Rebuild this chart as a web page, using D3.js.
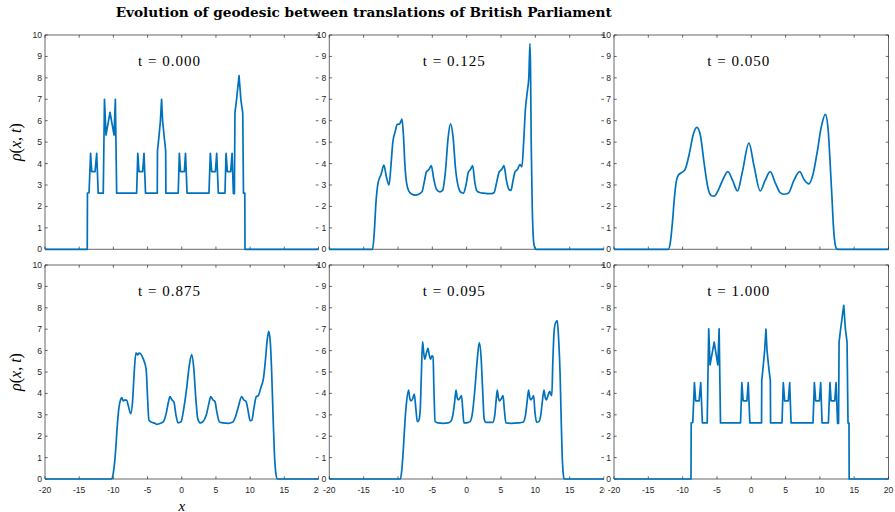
<!DOCTYPE html>
<html>
<head>
<meta charset="utf-8">
<script src="https://cdn.jsdelivr.net/npm/d3@7"></script>
<style>
  html, body { margin: 0; padding: 0; background: #fff; }
  svg { display: block; }
</style>
</head>
<body>
<svg id="chart" width="895" height="512"></svg>
<script>
// ---- data: density rho(x,t) along the geodesic, as [x, rho] samples ----
const titleText = "Evolution of geodesic between translations of British Parliament";
const panelLabels = ["t = 0.000", "t = 0.125", "t = 0.050", "t = 0.875", "t = 0.095", "t = 1.000"];
const xTicks = [-20, -15, -10, -5, 0, 5, 10, 15, 20];
const yTicks = [0, 1, 2, 3, 4, 5, 6, 7, 8, 9, 10];

const rhoT000 = [[-20,0],[-13.82,0],[-13.79,2.62],[-13.56,2.64],[-13.33,4.48],[-13.17,3.62],[-12.68,3.62],[-12.44,4.48],[-12.22,2.62],
  [-11.48,2.62],[-11.30,7.0],[-11.08,5.33],[-10.49,6.39],[-9.90,5.33],[-9.71,7.0],[-9.52,2.62],
  [-6.60,2.62],[-6.43,4.48],[-6.25,3.62],[-5.72,3.62],[-5.52,4.48],[-5.30,2.62],
  [-3.58,2.62],[-3.55,4.6],[-3.35,5.2],[-3.12,6.0],[-2.95,7.0],[-2.80,6.0],[-2.55,5.2],[-2.35,4.6],[-2.32,2.62],
  [-0.52,2.62],[-0.35,4.48],[-0.18,3.62],[0.38,3.62],[0.55,4.48],[0.78,2.62],
  [3.98,2.62],[4.18,4.48],[4.38,3.62],[4.92,3.62],[5.11,4.48],[5.35,2.62],
  [6.32,2.62],[6.48,4.48],[6.67,3.62],[7.16,3.62],[7.36,4.48],[7.55,2.6],[7.70,2.6],[7.78,6.35],[8.0,6.95],[8.38,8.1],[8.65,6.97],[8.92,6.35],[9.03,2.62],[9.22,2.62],[9.25,0],[20,0]];

const rhoT125 = [[-20,0],[-13.7,0],[-13.45,0.8],[-13.2,2.2],[-12.9,3.1],[-12.45,3.5],[-12.05,3.93],[-11.7,3.4],[-11.3,3.0],[-11.0,4.0],
  [-10.75,5.0],[-10.4,5.5],[-10.1,5.83],[-9.75,5.85],[-9.6,5.95],[-9.42,6.07],[-9.2,5.3],[-9.0,4.0],[-8.75,3.1],[-8.4,2.7],[-8.0,2.58],
  [-7.5,2.53],[-7.0,2.57],[-6.5,2.68],[-6.2,3.1],[-5.85,3.62],[-5.5,3.72],[-5.15,3.9],[-4.8,3.3],[-4.4,2.8],[-3.9,2.68],[-3.5,2.75],
  [-3.1,3.6],[-2.7,5.2],[-2.35,5.85],[-2.0,5.3],[-1.6,3.7],[-1.2,2.9],[-0.8,2.65],[-0.45,2.62],[-0.1,3.0],[0.25,3.6],[0.55,3.72],
  [0.87,3.9],[1.2,3.1],[1.5,2.72],[1.9,2.65],[2.4,2.62],[3.0,2.6],[3.6,2.6],[4.0,2.65],[4.35,3.1],[4.75,3.62],[5.1,3.72],[5.43,3.9],
  [5.8,3.2],[6.15,2.8],[6.45,2.75],[6.75,3.2],[7.05,3.62],[7.4,3.72],[7.76,3.95],[8.05,3.85],[8.3,5.0],[8.55,6.5],[8.85,7.4],[9.05,8.0],
  [9.22,9.6],[9.3,8.5],[9.4,5.0],[9.55,2.0],[9.7,0.6],[9.85,0.15],[10.1,0],[20,0]];

const rhoT050 = [[-20,0],[-12.1,0],[-11.8,0.3],[-11.5,1.2],[-11.2,2.4],[-10.9,3.2],[-10.6,3.47],[-10.1,3.59],[-9.65,3.72],[-9.0,4.5],
  [-8.5,5.3],[-7.93,5.69],[-7.4,5.3],[-6.86,4.0],[-6.3,2.85],[-5.8,2.5],[-5.4,2.48],[-4.9,2.7],[-4.2,3.2],[-3.41,3.62],[-2.7,3.2],
  [-2.0,2.72],[-1.3,3.6],[-0.34,4.95],[0.4,3.9],[1.31,2.72],[2.0,3.2],[2.77,3.62],[3.5,3.1],[4.2,2.65],[4.72,2.57],[5.4,2.62],
  [6.2,3.2],[7.06,3.62],[7.7,3.25],[8.37,3.05],[9.0,3.5],[9.59,4.5],[10.2,5.7],[10.8,6.3],[11.2,5.6],[11.5,4.0],[11.75,2.5],
  [11.95,1.2],[12.15,0.4],[12.4,0.05],[12.6,0],[20,0]];

const rhoT875 = [[-20,0],[-10.25,0],[-10.0,0.3],[-9.7,1.2],[-9.45,2.4],[-9.2,3.3],[-8.95,3.7],[-8.77,3.8],[-8.55,3.65],[-8.3,3.7],
  [-8.05,3.68],[-7.8,3.4],[-7.46,3.05],[-7.2,3.6],[-6.95,5.0],[-6.7,5.9],[-6.45,5.8],[-6.25,5.88],[-6.0,5.85],[-5.75,5.7],[-5.5,5.5],
  [-5.2,5.1],[-5.0,3.8],[-4.8,2.75],[-4.4,2.65],[-3.9,2.6],[-3.65,2.55],[-3.1,2.6],[-2.65,2.7],[-2.25,3.1],[-1.95,3.6],[-1.72,3.85],
  [-1.45,3.7],[-1.15,3.6],[-0.85,3.0],[-0.55,2.62],[-0.1,2.68],[0.25,3.2],[0.7,4.2],[1.1,5.3],[1.45,5.81],[1.75,5.2],[2.05,3.8],
  [2.35,2.8],[2.7,2.62],[3.1,2.68],[3.6,3.0],[3.95,3.5],[4.25,3.85],[4.55,3.7],[4.85,3.62],[5.15,3.1],[5.5,2.67],[6.0,2.62],
  [6.8,2.6],[7.4,2.65],[7.85,2.9],[8.3,3.4],[8.75,3.85],[9.05,3.7],[9.4,3.62],[9.7,3.2],[10.0,2.72],[10.25,2.75],[10.55,3.3],
  [10.9,3.85],[11.2,3.9],[11.6,4.3],[11.95,4.7],[12.25,5.6],[12.5,6.5],[12.72,6.9],[12.95,6.4],[13.15,5.0],[13.35,3.0],[13.55,1.2],
  [13.75,0.3],[14.0,0],[20,0]];

const rhoT095 = [[-20,0],[-9.65,0],[-9.45,0.4],[-9.2,1.5],[-9.0,2.6],[-8.75,3.6],[-8.45,4.16],[-8.3,3.8],[-8.1,3.65],[-7.85,3.75],
  [-7.62,3.97],[-7.4,3.3],[-7.18,2.68],[-6.95,2.75],[-6.75,3.3],[-6.6,4.8],[-6.42,6.42],[-6.25,5.9],[-6.1,5.6],[-5.85,5.9],[-5.63,6.1],
  [-5.45,5.8],[-5.25,5.6],[-5.05,5.75],[-4.9,5.72],[-4.75,4.0],[-4.6,2.7],[-4.2,2.62],[-3.4,2.6],[-2.7,2.62],[-2.3,2.7],[-2.0,3.0],
  [-1.75,3.6],[-1.55,4.16],[-1.38,3.8],[-1.2,3.7],[-0.95,3.8],[-0.75,3.9],[-0.58,3.3],[-0.4,2.62],[0.0,2.62],[0.5,2.68],[0.85,3.1],
  [1.2,4.2],[1.55,5.6],[1.84,6.37],[2.1,5.7],[2.35,4.0],[2.55,2.8],[2.8,2.65],[3.8,2.65],[4.1,3.0],[4.3,3.7],[4.46,4.16],[4.62,3.8],
  [4.8,3.65],[5.05,3.75],[5.3,3.9],[5.5,3.2],[5.72,2.62],[6.5,2.6],[7.5,2.62],[8.2,2.65],[8.55,2.95],[8.8,3.6],[9.02,4.16],[9.2,3.8],
  [9.35,3.7],[9.55,3.78],[9.75,3.9],[9.95,3.1],[10.2,2.65],[10.5,2.68],[10.8,3.0],[11.05,3.7],[11.26,4.16],[11.45,3.8],[11.62,3.7],
  [11.85,3.9],[12.1,4.1],[12.25,3.95],[12.4,3.9],[12.55,5.5],[12.76,7.0],[12.95,7.3],[13.2,7.4],[13.4,6.5],[13.6,5.0],[13.75,3.0],
  [13.9,1.2],[14.05,0.3],[14.2,0],[20,0]];

const rhoT100 = [[-20,0],[-8.78,0],[-8.75,2.62],[-8.52,2.64],[-8.28,4.5],[-8.10,3.65],[-7.60,3.65],[-7.36,4.5],[-7.12,2.62],
  [-6.42,2.62],[-6.20,7.02],[-6.0,5.33],[-5.40,6.4],[-4.87,5.33],[-4.68,7.02],[-4.48,2.62],
  [-1.56,2.62],[-1.37,4.5],[-1.18,3.65],[-0.63,3.65],[-0.44,4.5],[-0.20,2.62],
  [1.50,2.62],[1.53,4.6],[1.72,5.2],[1.95,6.0],[2.14,7.0],[2.30,6.0],[2.55,5.2],[2.78,4.6],[2.82,2.62],
  [4.48,2.62],[4.67,4.5],[4.87,3.65],[5.40,3.65],[5.60,4.5],[5.80,2.62],
  [9.0,2.62],[9.2,4.5],[9.39,3.65],[9.93,3.65],[10.12,4.5],[10.32,2.62],
  [11.24,2.62],[11.47,4.5],[11.63,3.65],[12.17,3.65],[12.36,4.5],[12.58,2.6],[12.72,2.6],[12.8,6.4],[13.0,6.95],[13.48,8.12],[13.72,7.0],[13.96,6.4],[14.1,2.62],[14.24,2.62],[14.27,0],[20,0]];

const series = [rhoT000, rhoT125, rhoT050, rhoT875, rhoT095, rhoT100];
const smooth = [false, true, true, true, true, false];

// ---- layout ----
const rows = [{ top: 35, bottom: 249.3 }, { top: 265, bottom: 479 }];
const cols = [{ left: 45, right: 318.5 }, { left: 329.3, right: 604 }, { left: 614, right: 888.5 }];
const axisColor = "#262626";
const lineColor = "#0072BD";
const tickLen = 2.7;
const tickFont = "Liberation Sans, Arial, sans-serif";

const svg = d3.select("#chart");
svg.append("rect").attr("width", 895).attr("height", 512).attr("fill", "#fff");

rows.forEach((row, r) => {
  cols.forEach((col, c) => {
    const k = r * 3 + c;
    const x = d3.scaleLinear().domain([-20, 20]).range([col.left, col.right]);
    const y = d3.scaleLinear().domain([0, 10]).range([row.bottom, row.top]);

    // the next axes sits on a white backing that hides this one's right edge
    if (c > 0) {
      svg.append("rect")
        .attr("x", cols[c - 1].right + 0.45).attr("y", row.top - 6)
        .attr("width", col.left - cols[c - 1].right - 0.45)
        .attr("height", row.bottom - row.top + 24)
        .attr("fill", "#fff");
    }

    const g = svg.append("g");

    // box: top, bottom, left always; right only on the last column
    const box = g.append("g").attr("stroke", axisColor).attr("stroke-width", 0.7).attr("fill", "none");
    box.append("line").attr("x1", col.left).attr("x2", col.right).attr("y1", row.top).attr("y2", row.top);
    box.append("line").attr("x1", col.left).attr("x2", col.right).attr("y1", row.bottom).attr("y2", row.bottom);
    box.append("line").attr("x1", col.left).attr("x2", col.left).attr("y1", row.top).attr("y2", row.bottom);
    if (c === 2) box.append("line").attr("x1", col.right).attr("x2", col.right).attr("y1", row.top).attr("y2", row.bottom);

    // inward ticks on all four sides
    yTicks.forEach(v => {
      box.append("line").attr("x1", col.left).attr("x2", col.left + tickLen).attr("y1", y(v)).attr("y2", y(v));
      box.append("line").attr("x1", col.right - tickLen).attr("x2", col.right).attr("y1", y(v)).attr("y2", y(v));
    });
    xTicks.forEach(v => {
      box.append("line").attr("x1", x(v)).attr("x2", x(v)).attr("y1", row.bottom).attr("y2", row.bottom - tickLen);
      box.append("line").attr("x1", x(v)).attr("x2", x(v)).attr("y1", row.top).attr("y2", row.top + tickLen);
    });

    // y tick labels
    g.append("g").selectAll("text").data(yTicks).join("text")
      .attr("x", col.left - 3).attr("y", v => y(v)).attr("dy", "0.35em")
      .attr("text-anchor", "end").attr("font-family", tickFont)
      .attr("font-size", 8.6).attr("fill", axisColor).text(v => v);

    // x tick labels on the bottom row only
    if (r === 1) {
      g.append("g").selectAll("text").data(xTicks).join("text")
        .attr("x", v => x(v)).attr("y", row.bottom + 13.5)
        .attr("text-anchor", "middle").attr("font-family", tickFont)
        .attr("font-size", 8.6).attr("fill", axisColor).text(v => v);
    }

    // density curve
    const line = d3.line()
      .x(d => x(d[0])).y(d => y(d[1]))
      .curve(smooth[k] ? d3.curveMonotoneX : d3.curveLinear);
    g.append("path").datum(series[k])
      .attr("d", line).attr("fill", "none")
      .attr("stroke", lineColor).attr("stroke-width", 1.7)
      .attr("stroke-linejoin", "round");

    // time label
    g.append("text")
      .attr("x", x(-6.4)).attr("y", y(8.57))
      .attr("font-family", "Liberation Serif, Times New Roman, serif")
      .attr("font-size", 15).attr("fill", "#000")
      .attr("textLength", 62).attr("lengthAdjust", "spacing")
      .text(panelLabels[k]);
  });
});

// y axis labels
rows.forEach(row => {
  const t = svg.append("text")
    .attr("transform", `translate(21,${(row.top + row.bottom) / 2}) rotate(-90)`)
    .attr("text-anchor", "middle")
    .attr("font-family", "Liberation Serif, Times New Roman, serif")
    .attr("font-size", 16).attr("fill", "#000");
  t.append("tspan").attr("font-style", "italic").text("ρ");
  t.append("tspan").text("(");
  t.append("tspan").attr("font-style", "italic").text("x");
  t.append("tspan").text(", ");
  t.append("tspan").attr("font-style", "italic").text("t");
  t.append("tspan").text(")");
});

// x axis label
svg.append("text")
  .attr("x", (cols[0].left + cols[0].right) / 2).attr("y", 510.5)
  .attr("text-anchor", "middle")
  .attr("font-family", "Liberation Serif, Times New Roman, serif")
  .attr("font-style", "italic").attr("font-size", 15).attr("fill", "#000")
  .text("x");

// title
svg.append("text")
  .attr("x", 115.7).attr("y", 17)
  .attr("font-family", "DejaVu Serif, serif").attr("font-weight", "bold")
  .attr("font-size", 13).attr("fill", "#000")
  .attr("textLength", 496).attr("lengthAdjust", "spacingAndGlyphs")
  .text(titleText);
</script>
</body>
</html>
